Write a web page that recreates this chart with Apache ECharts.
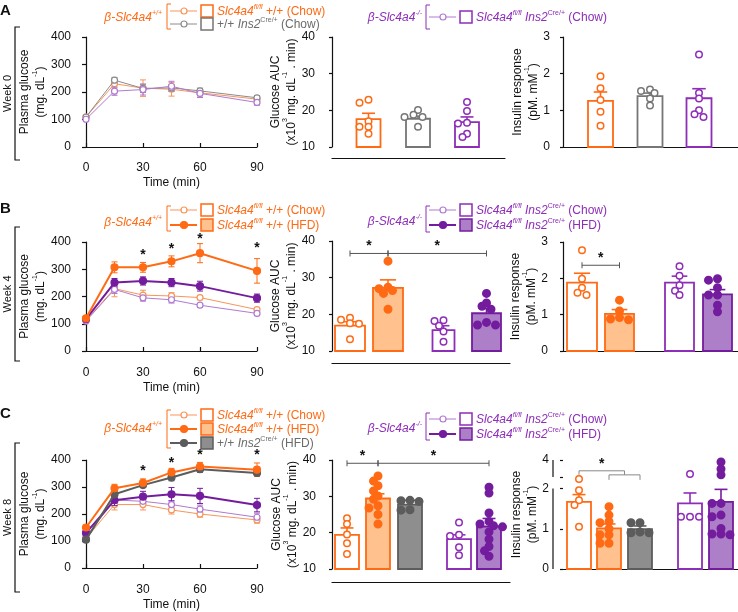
<!DOCTYPE html>
<html><head><meta charset="utf-8">
<script src="https://cdn.jsdelivr.net/npm/echarts@6/dist/echarts.min.js"></script>
<style>html,body{margin:0;padding:0;background:#fff}#c{width:738px;height:612px}</style>
</head><body><div id="c"></div>
<script>
// ================= DATA =================
const TIME = [0, 15, 30, 45, 60, 90];

// Week 0 plasma glucose (mg/dL): mean and SEM
const A_WT_CHOW = [109, 230, 214, 210, 197, 174];
const A_WT_CHOW_SEM = [8, 15, 30, 25, 15, 10];
const A_CRE_CHOW = [109, 243, 213, 215, 204, 179];
const A_CRE_CHOW_SEM = [6, 10, 15, 12, 10, 8];
const A_KO_CHOW = [101, 203, 209, 221, 195, 162];
const A_KO_CHOW_SEM = [5, 15, 20, 18, 15, 10];

// Week 4
const B_WT_CHOW = [113, 229, 205, 202, 196, 152];
const B_WT_CHOW_SEM = [5, 30, 18, 12, 8, 8];
const B_WT_HFD = [120, 307, 307, 329, 359, 294];
const B_WT_HFD_SEM = [8, 20, 18, 20, 35, 45];
const B_KO_CHOW = [110, 226, 195, 188, 168, 138];
const B_KO_CHOW_SEM = [5, 15, 12, 12, 5, 8];
const B_KO_HFD = [117, 251, 257, 251, 238, 194];
const B_KO_HFD_SEM = [8, 15, 15, 15, 18, 15];
const B_STAR_T = [30, 45, 60, 90];
const B_STAR_Y = [350, 372, 412, 378];

// Week 8
const C_WT_CHOW = [109, 235, 235, 215, 200, 178];
const C_WT_CHOW_SEM = [5, 20, 20, 15, 12, 12];
const C_WT_HFD = [150, 295, 315, 354, 376, 364];
const C_WT_HFD_SEM = [6, 15, 15, 15, 15, 25];
const C_CRE_HFD = [105, 273, 307, 335, 366, 352];
const C_CRE_HFD_SEM = [5, 15, 8, 12, 12, 12];
const C_KO_CHOW = [115, 252, 247, 235, 218, 188];
const C_KO_CHOW_SEM = [5, 15, 15, 15, 15, 15];
const C_KO_HFD = [130, 251, 264, 273, 267, 233];
const C_KO_HFD_SEM = [8, 20, 20, 25, 28, 25];
const C_STAR_T = [30, 45, 60, 90];
const C_STAR_Y = [360, 389, 418, 418];

// Glucose AUC (x10^3 mg.dL-1.min)
const AUC_A_MEAN = [17.6, 17.7, 16.8];
const AUC_A_SEM = [1.6, 0.7, 1.4];
const AUC_A_PTS = [[22.9, 22.1, 17.0, 15.5, 15.5, 13.6], [20.1, 18.8, 18.2, 18.2, 15.5], [22.3, 19.8, 16.6, 16.4, 13.6, 12.7]];
const AUC_B_MEAN = [16.9, 27.2, 15.7, 20.3];
const AUC_B_SEM = [1.1, 2.2, 1.2, 1.3];
const AUC_B_PTS = [[19.1, 18.5, 17.6, 17.4, 13.2], [34.5, 27.4, 27.0, 26.5, 25.7, 21.4], [18.4, 18.2, 16.9, 15.3, 12.5], [25.7, 23.1, 22.2, 21.4, 17.8, 17.1, 17.1]];
const AUC_C_MEAN = [19.4, 29.4, 27.7, 18.2, 21.7];
const AUC_C_SEM = [1.9, 1.3, 1.2, 1.2, 2.2];
const AUC_C_PTS = [[24.0, 22.4, 19.5, 17.1, 14.1], [35.6, 34.2, 32.9, 31.5, 30.1, 29.2, 27.4, 26.8, 25.0, 22.4], [28.9, 28.8, 28.6, 26.3, 26.2], [22.8, 19.4, 19.1, 16.0, 13.8], [32.5, 30.9, 25.4, 23.1, 22.4, 21.9, 21.6, 20.2, 18.2, 16.2, 15.0, 13.5]];

// Insulin response (pM.mM-1)
const INS_A_MEAN = [1.26, 1.39, 1.33];
const INS_A_SEM = [0.24, 0.08, 0.26];
const INS_A_PTS = [[1.93, 1.60, 1.28, 0.96, 0.58], [1.57, 1.53, 1.47, 1.32, 1.13], [2.52, 1.47, 1.32, 1.00, 0.89, 0.82]];
const INS_B_MEAN = [1.88, 1.02, 1.88, 1.56];
const INS_B_SEM = [0.26, 0.12, 0.18, 0.13];
const INS_B_PTS = [[2.77, 1.99, 1.74, 1.60, 1.54], [1.40, 1.10, 0.92, 0.88, 0.86], [2.33, 2.07, 1.81, 1.66, 1.54], [1.99, 1.95, 1.74, 1.54, 1.54, 1.26, 1.08]];
const INS_C_MEAN = [1.67, 1.01, 0.99, 1.63, 1.67];
const INS_C_SEM = [0.18, 0.11, 0.08, 0.26, 0.31];
const INS_C_PTS = [[2.83, 1.96, 1.71, 1.59, 1.05], [1.55, 1.34, 1.18, 1.15, 1.00, 0.85, 0.85, 0.64, 0.64], [1.15, 1.15, 0.92, 0.90, 0.90], [3.17, 1.30, 1.30, 1.30], [3.88, 3.47, 3.12, 1.63, 1.63, 1.34, 1.30, 1.01, 0.87, 0.87, 0.85]];

// Tick labels
const GLU_TICKS = [0, 100, 200, 300, 400];
const TIME_TICKS = [0, 30, 60, 90];
const AUC_TICKS = [10, 20, 30, 40];
const INS_TICKS = [0, 1, 2, 3];
const INS_C_TICKS = [0, 1, 2, 4];

// ================= STYLE / LAYOUT =================
const FONT = '"Liberation Sans", Arial, Helvetica, sans-serif';
const COL = {
  orange: '#FF6A14', orangeLt: '#F8955A', orangeFill: '#FFC28F',
  gray: '#767676', grayLine: '#8C8C8C', grayDark: '#5C5C5C', grayFill: '#8E8E8E', grayText: '#6B6B6B',
  purple: '#8E2DB8', purpleLt: '#B07AD0', purpleDk: '#741C9E', purpleFill: '#AD7FC8'
};
const INK = '#111';

// broken axis for week-8 insulin panel (axis layout)
const BRK_V = [0, 2, 3, 4], BRK_T = [0, 2, 2.29, 2.71];
function interp(v, xs, ys) {
  for (let i = 1; i < xs.length; i++) {
    if (v <= xs[i] || i === xs.length - 1) {
      return ys[i - 1] + (v - xs[i - 1]) * (ys[i] - ys[i - 1]) / (xs[i] - xs[i - 1]);
    }
  }
}
const Tbrk = v => interp(v, BRK_V, BRK_T);
const Tinv = t => interp(t, BRK_T, BRK_V);
const Tid = v => v;

const grid = [], xAxis = [], yAxis = [], series = [], graphic = [];
const LBL = { color: INK, fontSize: 12, fontFamily: FONT };
const axisLineStyle = { color: INK, width: 1.2 };

function nameRich() {
  return {
    a: { fontSize: 12, fontFamily: FONT, color: INK, lineHeight: 16, verticalAlign: 'bottom' },
    s: { fontSize: 7, fontFamily: FONT, color: INK, lineHeight: 9, verticalAlign: 'top' }
  };
}

function starSeries(gi, pts) {
  return {
    type: 'custom', xAxisIndex: gi, yAxisIndex: gi, z: 10, silent: true, clip: false,
    data: pts,
    renderItem: (params, api) => {
      const p = api.coord([api.value(0), api.value(1)]);
      return { type: 'text', x: p[0], y: p[1], style: { text: '*', fill: INK, fontSize: 14, fontWeight: 'bold', fontFamily: FONT, align: 'center', verticalAlign: 'middle' } };
    }
  };
}

function addLinePanel(r, groups, stars) {
  const gi = grid.length;
  grid.push({ left: r.l, top: r.t, width: r.w, height: r.h });
  xAxis.push({
    gridIndex: gi, type: 'value', min: TIME_TICKS[0], max: TIME_TICKS[TIME_TICKS.length - 1], interval: 30, offset: r.xo,
    axisLine: { show: true, lineStyle: axisLineStyle },
    axisTick: { show: true, inside: true, length: 4, lineStyle: axisLineStyle },
    axisLabel: Object.assign({}, LBL, { margin: 5 }), splitLine: { show: false },
    name: 'Time (min)', nameLocation: 'middle', nameGap: 20, nameTextStyle: Object.assign({}, LBL)
  });
  yAxis.push({
    gridIndex: gi, type: 'value', min: GLU_TICKS[0], max: GLU_TICKS[GLU_TICKS.length - 1], interval: 100, offset: r.yo,
    axisLine: { show: true, lineStyle: axisLineStyle },
    axisTick: { show: true, length: 4, lineStyle: axisLineStyle },
    axisLabel: Object.assign({}, LBL, { margin: 5 }), splitLine: { show: false },
    name: '{a|Plasma glucose}\n{a|(mg. dL}{s|-1}{a|)}', nameLocation: 'middle', nameRotate: 90, nameGap: 26,
    nameTextStyle: { rich: nameRich() }
  });
  groups.forEach((g, k) => {
    series.push({
      type: 'custom', xAxisIndex: gi, yAxisIndex: gi, z: 2 + k, silent: true,
      data: TIME.map((t, i) => [t, g.mean[i] - g.sem[i], g.mean[i] + g.sem[i]]),
      renderItem: (params, api) => {
        const x = api.value(0);
        const lo = api.coord([x, api.value(1)]);
        const hi = api.coord([x, api.value(2)]);
        const st = { stroke: g.color, lineWidth: 1 };
        return { type: 'group', children: [
          { type: 'line', shape: { x1: lo[0], y1: lo[1], x2: hi[0], y2: hi[1] }, style: st },
          { type: 'line', shape: { x1: hi[0] - 3, y1: hi[1], x2: hi[0] + 3, y2: hi[1] }, style: st },
          { type: 'line', shape: { x1: lo[0] - 3, y1: lo[1], x2: lo[0] + 3, y2: lo[1] }, style: st }
        ] };
      }
    });
    series.push({
      type: 'line', xAxisIndex: gi, yAxisIndex: gi, z: 3 + k, silent: true,
      data: TIME.map((t, i) => [t, g.mean[i]]),
      symbol: 'circle', symbolSize: g.filled ? 7 : 6,
      lineStyle: { color: g.color, width: g.filled ? 2 : 1 },
      itemStyle: { color: g.filled ? g.color : '#fff', borderColor: g.color, borderWidth: 1.2 }
    });
  });
  if (stars) series.push(starSeries(gi, stars.t.map((t, i) => [t, stars.y[i]])));
}

// beeswarm-like horizontal spread of individual points (pixel offsets)
function swarm(vals, T, pxPerUnit) {
  const placed = [];
  const cands = [0, -4.5, 4.5, -9, 9, -13.5, 13.5];
  const d = 5.5;
  return vals.map(v => {
    const y = T(v) * pxPerUnit;
    for (const dx of cands) {
      if (placed.every(q => (q.x - dx) * (q.x - dx) + (q.y - y) * (q.y - y) >= d * d)) { placed.push({ x: dx, y }); return dx; }
    }
    placed.push({ x: 0, y }); return 0;
  });
}

function addBarPanel(p) {
  const gi = grid.length;
  const T = p.T || Tid;
  grid.push({ left: p.l, top: p.t, width: p.w, height: p.h });
  xAxis.push({
    gridIndex: gi, type: 'value', min: 0, max: p.w, offset: p.xo,
    axisLine: { show: true, lineStyle: axisLineStyle }, axisTick: { show: false }, axisLabel: { show: false }, splitLine: { show: false }
  });
  const yMinT = T(p.ticks[0]), yMaxT = T(p.ticks[p.ticks.length - 1]);
  const ya = {
    gridIndex: gi, type: 'value', min: yMinT, max: yMaxT, offset: p.yo,
    axisLine: { show: !p.broken, lineStyle: axisLineStyle },
    axisTick: { show: true, length: 3, lineStyle: axisLineStyle },
    axisLabel: Object.assign({}, LBL, { margin: 4 }), splitLine: { show: false },
    name: p.name, nameLocation: 'middle', nameRotate: 90, nameGap: p.nameGap,
    nameTextStyle: { rich: nameRich() }
  };
  if (p.broken) {
    ya.axisTick.customValues = p.tickVals.map(T);
    ya.axisLabel.customValues = p.ticks.map(T);
    ya.axisLabel.formatter = v => String(Math.round(Tinv(v)));
  } else {
    ya.interval = p.ticks[1] - p.ticks[0];
  }
  yAxis.push(ya);
  const pxPerUnit = p.h / (yMaxT - yMinT);
  // bars
  series.push({
    type: 'custom', xAxisIndex: gi, yAxisIndex: gi, z: 2, silent: true,
    data: p.mean.map((m, i) => [p.slots[i], T(m), i]),
    renderItem: (params, api) => {
      const i = api.value(2); const s = p.styles[i]; const w = p.widths[i];
      const top = api.coord([api.value(0), api.value(1)]);
      const bot = api.coord([api.value(0), yMinT]);
      return { type: 'rect', shape: { x: top[0] - w / 2, y: top[1], width: w, height: bot[1] - top[1] },
        style: { fill: s.fill, stroke: s.stroke, lineWidth: 1.8 } };
    }
  });
  // error bars (SEM, upward)
  series.push({
    type: 'custom', xAxisIndex: gi, yAxisIndex: gi, z: 3, silent: true,
    data: p.mean.map((m, i) => [p.slots[i], T(m), T(m + p.sem[i]), i]),
    renderItem: (params, api) => {
      const i = api.value(3); const s = p.styles[i]; const w = p.widths[i];
      const lo = api.coord([api.value(0), api.value(1)]);
      const hi = api.coord([api.value(0), api.value(2)]);
      const st = { stroke: s.stroke, lineWidth: 1.6 };
      return { type: 'group', children: [
        { type: 'line', shape: { x1: lo[0], y1: lo[1], x2: hi[0], y2: hi[1] }, style: st },
        { type: 'line', shape: { x1: hi[0] - w * 0.27, y1: hi[1], x2: hi[0] + w * 0.27, y2: hi[1] }, style: st }
      ] };
    }
  });
  // individual points
  p.pts.forEach((vals, i) => {
    const s = p.styles[i];
    const dx = swarm(vals, T, pxPerUnit);
    series.push({
      type: 'scatter', xAxisIndex: gi, yAxisIndex: gi, z: 4, silent: true,
      data: vals.map((v, k) => [p.slots[i] + dx[k], T(v)]),
      symbol: 'circle', symbolSize: s.ptFilled ? 7.5 : 6.5,
      itemStyle: { color: s.ptFilled ? s.pt : '#fff', borderColor: s.pt, borderWidth: 1.5, opacity: 1 }
    });
  });
  // significance brackets
  if (p.brackets) {
    series.push({
      type: 'custom', xAxisIndex: gi, yAxisIndex: gi, z: 6, silent: true, clip: false,
      data: p.brackets.map(b => [p.slots[b.a], b.b2 !== undefined ? (p.slots[b.b] + p.slots[b.b2]) / 2 : p.slots[b.b], T(b.y), b.star ? 1 : 0, b.drop || 0]),
      renderItem: (params, api) => {
        const a = api.coord([api.value(0), api.value(2)]);
        const b = api.coord([api.value(1), api.value(2)]);
        const drop = api.value(4);
        const st = { stroke: p.bracketColor || '#555', lineWidth: 1 };
        const ch = [{ type: 'line', shape: { x1: a[0], y1: a[1], x2: b[0], y2: b[1] }, style: st }];
        if (drop) {
          ch.push({ type: 'line', shape: { x1: a[0], y1: a[1], x2: a[0], y2: a[1] + drop }, style: st });
          ch.push({ type: 'line', shape: { x1: b[0], y1: b[1], x2: b[0], y2: b[1] + drop }, style: st });
        } else {
          ch.push({ type: 'line', shape: { x1: a[0], y1: a[1] - 3, x2: a[0], y2: a[1] + 3 }, style: st });
          ch.push({ type: 'line', shape: { x1: b[0], y1: b[1] - 3, x2: b[0], y2: b[1] + 3 }, style: st });
        }
        if (api.value(3)) ch.push({ type: 'text', x: (a[0] + b[0]) / 2, y: a[1] - 7, style: { text: '*', fill: INK, fontSize: 14, fontWeight: 'bold', fontFamily: FONT, align: 'center', verticalAlign: 'middle' } });
        return { type: 'group', children: ch };
      }
    });
  }
  return gi;
}

// style presets for bar groups
const S = {
  wtChow: { fill: '#fff', stroke: COL.orange, pt: COL.orange, ptFilled: false },
  wtHfd: { fill: COL.orangeFill, stroke: COL.orange, pt: COL.orange, ptFilled: true },
  creChow: { fill: '#fff', stroke: COL.gray, pt: COL.gray, ptFilled: false },
  creHfd: { fill: COL.grayFill, stroke: COL.grayDark, pt: COL.grayDark, ptFilled: true },
  koChow: { fill: '#fff', stroke: COL.purple, pt: COL.purple, ptFilled: false },
  koHfd: { fill: COL.purpleFill, stroke: COL.purpleDk, pt: COL.purpleDk, ptFilled: true }
};

const AUC_NAME = '{a|Glucose AUC}\n{a|(x10}{s|3}{a| mg. dL}{s|-1}{a| . min)}';
const INS_NAME = '{a|Insulin response}\n{a|(pM. mM}{s|-1}{a|)}';

// ---------- Row A ----------
addLinePanel({ l: 86, t: 37, w: 171, h: 110, xo: 10, yo: 10 }, [
  { mean: A_WT_CHOW, sem: A_WT_CHOW_SEM, color: COL.orangeLt, filled: false },
  { mean: A_CRE_CHOW, sem: A_CRE_CHOW_SEM, color: COL.grayLine, filled: false },
  { mean: A_KO_CHOW, sem: A_KO_CHOW_SEM, color: COL.purpleLt, filled: false }
]);
addBarPanel({ l: 332, t: 37, w: 173, h: 110, xo: 11, yo: 13, ticks: AUC_TICKS, name: AUC_NAME, nameGap: 18,
  mean: AUC_A_MEAN, sem: AUC_A_SEM, pts: AUC_A_PTS, slots: [36.5, 86, 135], widths: [24, 24, 24],
  styles: [S.wtChow, S.creChow, S.koChow] });
addBarPanel({ l: 563, t: 37, w: 175, h: 110, xo: 11, yo: 9, ticks: INS_TICKS, name: INS_NAME, nameGap: 13,
  mean: INS_A_MEAN, sem: INS_A_SEM, pts: INS_A_PTS, slots: [37.5, 87, 136], widths: [25, 25, 25],
  styles: [S.wtChow, S.creChow, S.koChow] });

// ---------- Row B ----------
addLinePanel({ l: 86, t: 242, w: 171, h: 109, xo: 11, yo: 10 }, [
  { mean: B_WT_CHOW, sem: B_WT_CHOW_SEM, color: COL.orangeLt, filled: false },
  { mean: B_KO_CHOW, sem: B_KO_CHOW_SEM, color: COL.purpleLt, filled: false },
  { mean: B_KO_HFD, sem: B_KO_HFD_SEM, color: COL.purpleDk, filled: true },
  { mean: B_WT_HFD, sem: B_WT_HFD_SEM, color: COL.orange, filled: true }
], { t: B_STAR_T, y: B_STAR_Y });
addBarPanel({ l: 332, t: 241, w: 178, h: 110, xo: 12, yo: 13, ticks: AUC_TICKS, name: AUC_NAME, nameGap: 18,
  mean: AUC_B_MEAN, sem: AUC_B_SEM, pts: AUC_B_PTS, slots: [18, 56, 111.5, 154.5], widths: [30, 30, 22, 29],
  styles: [S.wtChow, S.wtHfd, S.koChow, S.koHfd],
  brackets: [{ a: 0, b: 1, y: 36.6, star: true }, { a: 1, b: 3, y: 36.6, star: true }] });
addBarPanel({ l: 563, t: 242, w: 175, h: 109, xo: 12, yo: 11, ticks: INS_TICKS, name: INS_NAME, nameGap: 13,
  mean: INS_B_MEAN, sem: INS_B_SEM, pts: INS_B_PTS, slots: [19, 56.5, 116.5, 154.5], widths: [30, 29, 29, 29],
  styles: [S.wtChow, S.wtHfd, S.koChow, S.koHfd],
  brackets: [{ a: 0, b: 1, y: 2.36, star: true }] });

// ---------- Row C ----------
addLinePanel({ l: 86, t: 460, w: 171, h: 110, xo: 11, yo: 10 }, [
  { mean: C_WT_CHOW, sem: C_WT_CHOW_SEM, color: COL.orangeLt, filled: false },
  { mean: C_KO_CHOW, sem: C_KO_CHOW_SEM, color: COL.purpleLt, filled: false },
  { mean: C_KO_HFD, sem: C_KO_HFD_SEM, color: COL.purpleDk, filled: true },
  { mean: C_CRE_HFD, sem: C_CRE_HFD_SEM, color: COL.grayDark, filled: true },
  { mean: C_WT_HFD, sem: C_WT_HFD_SEM, color: COL.orange, filled: true }
], { t: C_STAR_T, y: C_STAR_Y });
addBarPanel({ l: 332, t: 460, w: 178, h: 109, xo: 13, yo: 12, ticks: AUC_TICKS, name: AUC_NAME, nameGap: 18,
  mean: AUC_C_MEAN, sem: AUC_C_SEM, pts: AUC_C_PTS, slots: [15, 46, 78, 127, 157], widths: [24, 24, 24, 24, 24],
  styles: [S.wtChow, S.wtHfd, S.creHfd, S.koChow, S.koHfd],
  brackets: [{ a: 0, b: 1, y: 39.1, star: true }, { a: 1, b: 4, y: 39.1, star: true }] });
const insCGrid = addBarPanel({ l: 563, t: 460, w: 175, h: 109, xo: 13, yo: 10, ticks: INS_C_TICKS, tickVals: [0, 1, 2, 3, 4],
  broken: true, T: Tbrk, name: INS_NAME, nameGap: 13,
  mean: INS_C_MEAN, sem: INS_C_SEM, pts: INS_C_PTS, slots: [16, 46, 77, 127, 158], widths: [24, 24, 24, 24, 24],
  styles: [S.wtChow, S.wtHfd, S.creHfd, S.koChow, S.koHfd], bracketColor: '#888',
  brackets: [{ a: 0, b: 1, b2: 2, y: 3.36, star: true, drop: 4 }, { a: 1, b: 2, y: 3.12, drop: 5 }] });

// ================= GRAPHIC (labels, legends) =================
function txt(x, y, text, rich, opts) {
  return { type: 'text', x, y, silent: true, style: Object.assign({ text, rich, align: 'left', verticalAlign: 'middle', fontFamily: FONT, fontSize: 12 }, opts || {}) };
}
function richFor(c) {
  return {
    i: { fill: c, fontStyle: 'italic', fontSize: 12, fontFamily: FONT, lineHeight: 14, verticalAlign: 'bottom' },
    n: { fill: c, fontSize: 12, fontFamily: FONT, lineHeight: 14, verticalAlign: 'bottom' },
    s: { fill: c, fontStyle: 'italic', fontSize: 7, fontFamily: FONT, lineHeight: 9, verticalAlign: 'top' },
    sn: { fill: c, fontSize: 7, fontFamily: FONT, lineHeight: 9, verticalAlign: 'top' }
  };
}
function line(x1, y1, x2, y2, c, w) {
  return { type: 'line', silent: true, shape: { x1, y1, x2, y2 }, style: { stroke: c, lineWidth: w || 1 } };
}
function legend(o) {
  const out = [];
  out.push(txt(o.titleX, o.titleY, '{i|β-Slc4a4}{s|' + o.sup + '}', richFor(o.color), { align: 'right' }));
  out.push({ type: 'polyline', silent: true, shape: { points: [[o.bx + 4, o.bTop], [o.bx, o.bTop], [o.bx, o.bBot], [o.bx + 4, o.bBot]] }, style: { stroke: o.color, lineWidth: 1, fill: null } });
  o.rows.forEach(r => {
    out.push(line(o.bx + 3, r.y, o.bx + 30, r.y, r.lc, r.filled ? 2 : 1));
    out.push({ type: 'circle', silent: true, shape: { cx: o.bx + 17, cy: r.y, r: r.filled ? 3.5 : 3 }, style: { fill: r.filled ? r.lc : '#fff', stroke: r.lc, lineWidth: 1.2 } });
    out.push({ type: 'rect', silent: true, shape: { x: o.bx + 34, y: r.y - 6, width: 12, height: 12 }, style: { fill: r.sqFill, stroke: r.sqStroke, lineWidth: 1.5 } });
    out.push(txt(o.bx + 50, r.y, r.text, richFor(r.tc)));
  });
  return out;
}
const T_WT_CHOW = '{i|Slc4a4}{s|fl/fl}{n| +/+ (Chow)}';
const T_WT_HFD = '{i|Slc4a4}{s|fl/fl}{n| +/+ (HFD)}';
const T_CRE_CHOW = '{n|+/+ }{i|Ins2}{sn|Cre/+}{n| (Chow)}';
const T_CRE_HFD = '{n|+/+ }{i|Ins2}{sn|Cre/+}{n| (HFD)}';
const T_KO_CHOW = '{i|Slc4a4}{s|fl/fl}{i| Ins2}{sn|Cre/+}{n| (Chow)}';
const T_KO_HFD = '{i|Slc4a4}{s|fl/fl}{i| Ins2}{sn|Cre/+}{n| (HFD)}';

const rWtChow = y => ({ y, lc: COL.orangeLt, filled: false, sqFill: '#fff', sqStroke: COL.orange, text: T_WT_CHOW, tc: COL.orange });
const rWtHfd = y => ({ y, lc: COL.orange, filled: true, sqFill: COL.orangeFill, sqStroke: COL.orange, text: T_WT_HFD, tc: COL.orange });
const rCreChow = y => ({ y, lc: COL.grayLine, filled: false, sqFill: '#fff', sqStroke: COL.gray, text: T_CRE_CHOW, tc: COL.grayText });
const rCreHfd = y => ({ y, lc: COL.grayDark, filled: true, sqFill: COL.grayFill, sqStroke: COL.grayDark, text: T_CRE_HFD, tc: COL.grayText });
const rKoChow = y => ({ y, lc: COL.purpleLt, filled: false, sqFill: '#fff', sqStroke: COL.purple, text: T_KO_CHOW, tc: COL.purple });
const rKoHfd = y => ({ y, lc: COL.purpleDk, filled: true, sqFill: COL.purpleFill, sqStroke: COL.purpleDk, text: T_KO_HFD, tc: COL.purple });

graphic.push(...legend({ titleX: 162, titleY: 17, sup: '+/+', color: COL.orange, bx: 167, bTop: 4, bBot: 29, rows: [rWtChow(11), rCreChow(24)] }));
graphic.push(...legend({ titleX: 422, titleY: 17, sup: '-/-', color: COL.purple, bx: 426, bTop: 5, bBot: 29, rows: [rKoChow(17)] }));
graphic.push(...legend({ titleX: 162, titleY: 222, sup: '+/+', color: COL.orange, bx: 167, bTop: 206, bBot: 231, rows: [rWtChow(210), rWtHfd(225)] }));
graphic.push(...legend({ titleX: 422, titleY: 221, sup: '-/-', color: COL.purple, bx: 426, bTop: 206, bBot: 232, rows: [rKoChow(210), rKoHfd(225)] }));
graphic.push(...legend({ titleX: 162, titleY: 428, sup: '+/+', color: COL.orange, bx: 167, bTop: 410, bBot: 448, rows: [rWtChow(415), rWtHfd(429), rCreHfd(443)] }));
graphic.push(...legend({ titleX: 422, titleY: 428, sup: '-/-', color: COL.purple, bx: 426, bTop: 413, bBot: 440, rows: [rKoChow(419), rKoHfd(434)] }));

// panel letters
[['A', 11], ['B', 209], ['C', 414]].forEach(([L, y]) => graphic.push(txt(0, y, L, null, { fontSize: 15, fontWeight: 'bold', fill: INK })));
// week labels with brackets
[['Week 0', 27, 160], ['Week 4', 227, 361], ['Week 8', 443, 592]].forEach(([w, t, b]) => {
  graphic.push({ type: 'polyline', silent: true, shape: { points: [[20, t], [15, t], [15, b], [20, b]] }, style: { stroke: INK, lineWidth: 1.2, fill: null } });
  graphic.push({ type: 'text', silent: true, x: 8, y: (t + b) / 2, rotation: Math.PI / 2,
    style: { text: w, fill: INK, fontSize: 11, fontFamily: FONT, align: 'center', verticalAlign: 'middle' } });
});

const chart = echarts.init(document.getElementById('c'), null, { renderer: 'canvas', width: 738, height: 612 });
chart.setOption({ animation: false, backgroundColor: '#fff', grid, xAxis, yAxis, series, graphic });

// broken y-axis line segments for week-8 insulin panel
(function () {
  const gi = insCGrid;
  const yo = 10;
  const p0 = chart.convertToPixel({ gridIndex: gi }, [0, Tbrk(0)]);
  const p2 = chart.convertToPixel({ gridIndex: gi }, [0, Tbrk(2)]);
  const p3 = chart.convertToPixel({ gridIndex: gi }, [0, Tbrk(3)]);
  const p4 = chart.convertToPixel({ gridIndex: gi }, [0, Tbrk(4)]);
  const x = p0[0] - yo;
  graphic.push(line(x, p0[1], x, p2[1], INK, 1.2));
  graphic.push(line(x, p3[1], x, p4[1], INK, 1.2));
  chart.setOption({ graphic });
})();
</script></body></html>
